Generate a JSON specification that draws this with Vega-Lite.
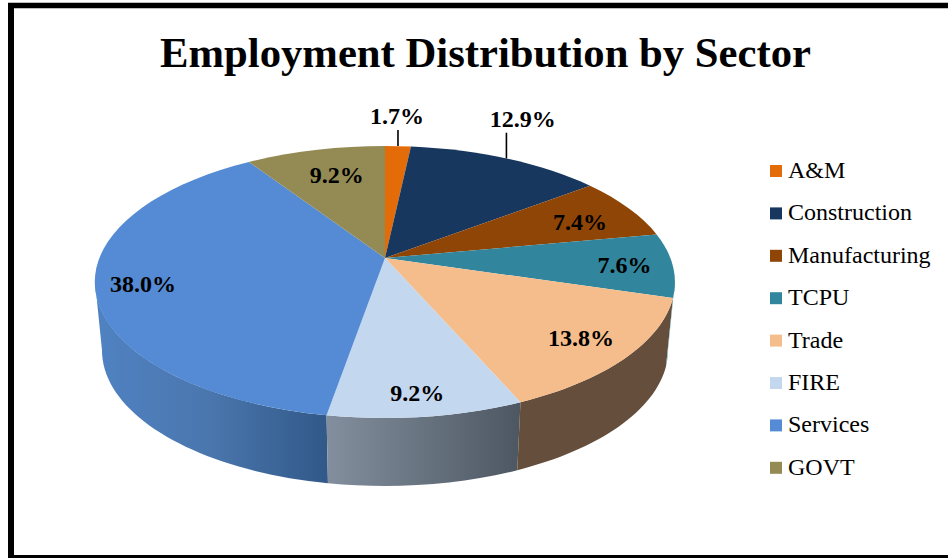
{
  "$schema": "https://vega.github.io/schema/vega-lite/v6.json",
  "width": 948,
  "height": 558,
  "padding": 0,
  "autosize": {"type": "none"},
  "background": "white",
  "view": {"stroke": null},
  "title": {
    "text": "Employment Distribution by Sector",
    "font": "Liberation Serif",
    "fontSize": 42.7,
    "fontWeight": "bold",
    "color": "black",
    "anchor": "start",
    "frame": "group",
    "baseline": "alphabetic",
    "offset": 0,
    "dx": 160,
    "dy": 110
  },
  "params": [
    {"name": "topA", "value": 285.4},
    {"name": "topB", "value": 131.8},
    {"name": "persp", "value": 0.1765},
    {"name": "rimX", "value": 290},
    {"name": "rimY", "value": 136},
    {"name": "baseA", "value": 278.6},
    {"name": "baseRimX", "value": 283},
    {"name": "drop", "value": 68},
    {"name": "wallStart", "value": 1.748},
    {"name": "wallEnd", "value": 4.535}
  ],
  "data": {
    "values": [
      {"sector": "A&M", "share": 1.7},
      {"sector": "Construction", "share": 12.9},
      {"sector": "Manufacturing", "share": 7.4},
      {"sector": "TCPU", "share": 7.6},
      {"sector": "Trade", "share": 13.8},
      {"sector": "FIRE", "share": 9.2},
      {"sector": "Services", "share": 38.0},
      {"sector": "GOVT", "share": 9.2}
    ]
  },
  "transform": [
    {"joinaggregate": [{"op": "sum", "field": "share", "as": "total"}]},
    {"window": [{"op": "sum", "field": "share", "as": "cum"}], "frame": [null, 0]},
    {"calculate": "(datum.cum - datum.share) / datum.total * 2 * PI", "as": "t0"},
    {"calculate": "datum.cum / datum.total * 2 * PI", "as": "t1"},
    {"calculate": "round(100 * topA * sin(datum.t0) / (1 + persp * cos(datum.t0))) / 100", "as": "x0"},
    {"calculate": "round(-100 * topB * cos(datum.t0) / (1 + persp * cos(datum.t0))) / 100", "as": "y0"},
    {"calculate": "round(100 * topA * sin(datum.t1) / (1 + persp * cos(datum.t1))) / 100", "as": "x1"},
    {"calculate": "round(-100 * topB * cos(datum.t1) / (1 + persp * cos(datum.t1))) / 100", "as": "y1"},
    {"calculate": "'M0,0L' + datum.x0 + ',' + datum.y0 + 'A' + rimX + ' ' + rimY + ' 0 0 1 ' + datum.x1 + ',' + datum.y1 + 'Z'", "as": "slicePath"},
    {"calculate": "max(datum.t0, wallStart)", "as": "w0"},
    {"calculate": "min(datum.t1, wallEnd)", "as": "w1"},
    {"calculate": "round(100 * topA * sin(datum.w0) / (1 + persp * cos(datum.w0))) / 100", "as": "px0"},
    {"calculate": "round(-100 * topB * cos(datum.w0) / (1 + persp * cos(datum.w0))) / 100", "as": "py0"},
    {"calculate": "round(100 * topA * sin(datum.w1) / (1 + persp * cos(datum.w1))) / 100", "as": "px1"},
    {"calculate": "round(-100 * topB * cos(datum.w1) / (1 + persp * cos(datum.w1))) / 100", "as": "py1"},
    {"calculate": "round(100 * baseA * sin(datum.w0) / (1 + persp * cos(datum.w0))) / 100", "as": "qx0"},
    {"calculate": "datum.py0 + drop", "as": "qy0"},
    {"calculate": "round(100 * baseA * sin(datum.w1) / (1 + persp * cos(datum.w1))) / 100", "as": "qx1"},
    {"calculate": "datum.py1 + drop", "as": "qy1"},
    {"calculate": "'M' + datum.px0 + ',' + datum.py0 + 'L' + datum.qx0 + ',' + datum.qy0 + 'A' + baseRimX + ' ' + rimY + ' 0 0 1 ' + datum.qx1 + ',' + datum.qy1 + 'L' + datum.px1 + ',' + datum.py1 + 'A' + rimX + ' ' + rimY + ' 0 0 0 ' + datum.px0 + ',' + datum.py0 + 'Z'", "as": "wallPath"},
    {"calculate": "(datum.t0 + datum.t1) / 2 + PI / 180 * {'A&M': -0.8, 'Construction': -4.7, 'Manufacturing': 2.7, 'TCPU': 1.1, 'Trade': 0.1, 'FIRE': 0.6, 'Services': -1.9, 'GOVT': 1.3}[datum.sector]", "as": "labelAngle"},
    {"calculate": "{'A&M': 1.32, 'Construction': 1.417, 'Manufacturing': 0.769, 'TCPU': 0.832, 'Trade': 0.831, 'FIRE': 0.88, 'Services': 0.842, 'GOVT': 0.72}[datum.sector]", "as": "labelReach"},
    {"calculate": "topA * datum.labelReach * sin(datum.labelAngle) / (1 + persp * datum.labelReach * cos(datum.labelAngle))", "as": "labelX"},
    {"calculate": "-topB * datum.labelReach * cos(datum.labelAngle) / (1 + persp * datum.labelReach * cos(datum.labelAngle))", "as": "labelY"},
    {"calculate": "format(datum.share, '.1f') + '%'", "as": "label"},
    {"calculate": "(datum.t0 + datum.t1) / 2", "as": "leaderAngle"},
    {"calculate": "topA * sin(datum.leaderAngle) / (1 + persp * cos(datum.leaderAngle))", "as": "leaderX"},
    {"calculate": "-topB * cos(datum.leaderAngle) / (1 + persp * cos(datum.leaderAngle))", "as": "leaderY"},
    {"calculate": "datum.labelY + 13", "as": "leaderTop"}
  ],
  "layer": [
    {
      "transform": [{"filter": "datum.sector == 'Services'"}],
      "mark": {"type": "point", "filled": true, "opacity": 1, "size": 4, "fill": {"gradient": "linear", "x1": 0, "x2": 1, "y1": 0, "y2": 0, "stops": [{"offset": 0, "color": "#5082c2"}, {"offset": 0.5, "color": "#4a76ad"}, {"offset": 1, "color": "#315888"}]}},
      "encoding": {
        "x": {"datum": 0, "type": "quantitative", "scale": {"domain": [-385, 563]}, "axis": null},
        "y": {"datum": 0, "type": "quantitative", "scale": {"domain": [300, -258]}, "axis": null},
        "shape": {"field": "wallPath", "type": "nominal", "scale": null, "legend": null}
      }
    },
    {
      "transform": [{"filter": "datum.sector == 'FIRE'"}],
      "mark": {"type": "point", "filled": true, "opacity": 1, "size": 4, "fill": {"gradient": "linear", "x1": 0, "x2": 1, "y1": 0, "y2": 0, "stops": [{"offset": 0, "color": "#838f9e"}, {"offset": 1, "color": "#4d5762"}]}},
      "encoding": {
        "x": {"datum": 0, "type": "quantitative", "scale": {"domain": [-385, 563]}, "axis": null},
        "y": {"datum": 0, "type": "quantitative", "scale": {"domain": [300, -258]}, "axis": null},
        "shape": {"field": "wallPath", "type": "nominal", "scale": null, "legend": null}
      }
    },
    {
      "transform": [{"filter": "datum.sector == 'Trade'"}],
      "mark": {"type": "point", "filled": true, "opacity": 1, "size": 4, "fill": "#654e3b"},
      "encoding": {
        "x": {"datum": 0, "type": "quantitative", "scale": {"domain": [-385, 563]}, "axis": null},
        "y": {"datum": 0, "type": "quantitative", "scale": {"domain": [300, -258]}, "axis": null},
        "shape": {"field": "wallPath", "type": "nominal", "scale": null, "legend": null}
      }
    },
    {
      "transform": [{"filter": "datum.sector == 'TCPU'"}],
      "mark": {"type": "point", "filled": true, "opacity": 1, "size": 4, "fill": "#6fb0c2"},
      "encoding": {
        "x": {"datum": 0, "type": "quantitative", "scale": {"domain": [-385, 563]}, "axis": null},
        "y": {"datum": 0, "type": "quantitative", "scale": {"domain": [300, -258]}, "axis": null},
        "shape": {"field": "wallPath", "type": "nominal", "scale": null, "legend": null}
      }
    },
    {
      "mark": {"type": "point", "filled": true, "opacity": 1, "size": 4},
      "encoding": {
        "x": {"datum": 0, "type": "quantitative", "scale": {"domain": [-385, 563]}, "axis": null},
        "y": {"datum": 0, "type": "quantitative", "scale": {"domain": [300, -258]}, "axis": null},
        "shape": {"field": "slicePath", "type": "nominal", "scale": null, "legend": null},
        "color": {
          "field": "sector",
          "type": "nominal",
          "scale": {
            "domain": ["A&M", "Construction", "Manufacturing", "TCPU", "Trade", "FIRE", "Services", "GOVT"],
            "range": ["#E36C09", "#17375E", "#8E4505", "#31859C", "#F6BD8C", "#C3D7EE", "#548BD4", "#948A54"]
          },
          "legend": {
            "orient": "none",
            "legendX": 764,
            "legendY": 159,
            "title": null,
            "symbolType": "square",
            "symbolSize": 144,
            "symbolStrokeWidth": 0,
            "symbolOpacity": 1,
            "labelFont": "Liberation Serif",
            "labelFontSize": 24,
            "labelColor": "black",
            "labelOffset": 0,
            "labelLimit": 200,
            "rowPadding": 18.4,
            "padding": 0
          }
        }
      }
    },
    {
      "transform": [{"filter": "datum.sector == 'A&M' || datum.sector == 'Construction'"}],
      "mark": {"type": "rule", "color": "black", "strokeWidth": 1.6},
      "encoding": {
        "x": {"field": "leaderX", "type": "quantitative", "scale": {"domain": [-385, 563]}, "axis": null},
        "y": {"field": "leaderY", "type": "quantitative", "scale": {"domain": [300, -258]}, "axis": null},
        "y2": {"field": "leaderTop"}
      }
    },
    {
      "mark": {"type": "text", "font": "Liberation Serif", "fontSize": 24, "fontWeight": "bold", "color": "black", "align": "center", "baseline": "middle"},
      "encoding": {
        "x": {"field": "labelX", "type": "quantitative", "scale": {"domain": [-385, 563]}, "axis": null},
        "y": {"field": "labelY", "type": "quantitative", "scale": {"domain": [300, -258]}, "axis": null},
        "text": {"field": "label", "type": "nominal"}
      }
    },
    {
      "data": {"values": [{"edge": "left"}]},
      "mark": {"type": "rule", "color": "black", "strokeWidth": 6},
      "encoding": {
        "x": {"datum": -374, "type": "quantitative", "scale": {"domain": [-385, 563]}, "axis": null},
        "y": {"datum": -255, "type": "quantitative", "scale": {"domain": [300, -258]}, "axis": null},
        "y2": {"datum": 300}
      }
    },
    {
      "data": {"values": [{"edge": "top"}]},
      "mark": {"type": "rule", "color": "black", "strokeWidth": 5.5},
      "encoding": {
        "x": {"datum": -377, "type": "quantitative", "scale": {"domain": [-385, 563]}, "axis": null},
        "x2": {"datum": 563},
        "y": {"datum": -252.5, "type": "quantitative", "scale": {"domain": [300, -258]}, "axis": null}
      }
    },
    {
      "data": {"values": [{"edge": "bottom"}]},
      "mark": {"type": "rule", "color": "black", "strokeWidth": 3},
      "encoding": {
        "x": {"datum": -377, "type": "quantitative", "scale": {"domain": [-385, 563]}, "axis": null},
        "x2": {"datum": 563},
        "y": {"datum": 298.5, "type": "quantitative", "scale": {"domain": [300, -258]}, "axis": null}
      }
    }
  ]
}
